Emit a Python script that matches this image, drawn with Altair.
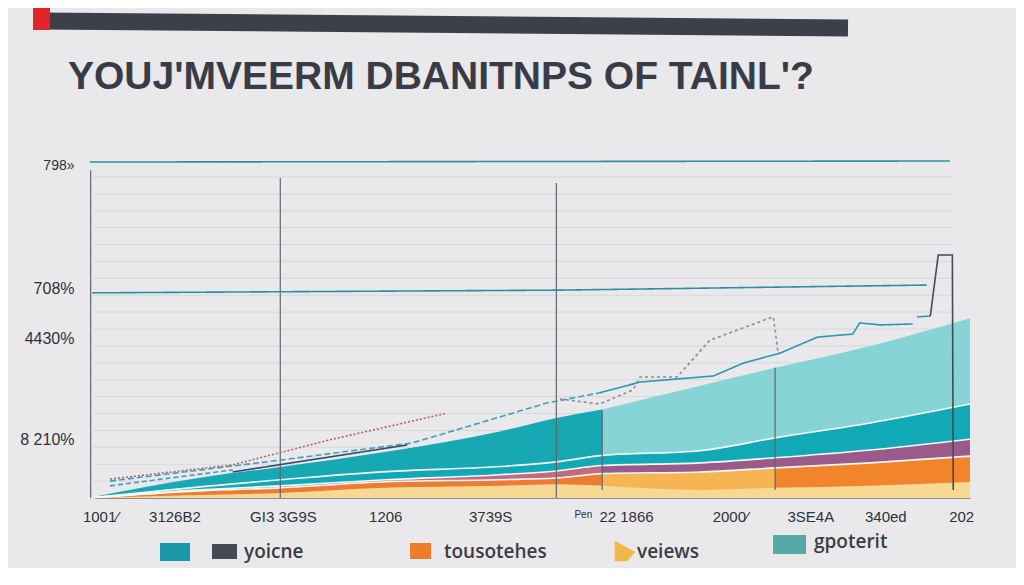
import json
import altair as alt
import pandas as pd

# ---------------- data ----------------
# stacked bands (thickness of each band at each x position)
x_pts  = [0, 12.7, 21.8, 33.8, 46.7, 53.1, 58.3, 69.4, 77.9, 88.7, 100]
pale   = [0, 0.9, 1.5, 3.0, 3.6, 4.1, 3.6, 2.4, 3.0, 3.6, 4.7]
orange = [0, 1.2, 1.5, 1.8, 1.8, 1.8, 3.6, 5.3, 5.9, 6.8, 7.7]
purple = [0, 0.3, 0.6, 0.6, 1.5, 2.1, 2.4, 2.7, 3.0, 3.8, 5.0]
teal   = [0, 0.9, 1.8, 2.4, 2.4, 2.7, 3.0, 3.6, 5.9, 8.0, 10.4]
upper  = [0, 2.7, 3.8, 5.9, 10.4, 13.0, 13.6, 19.2, 20.7, 22.8, 25.4]

# line series
h1_x = [0.2, 97.7];                       h1_y = [99.4, 99.7]
h2_x = [0.5, 53.5, 95.1];                 h2_y = [60.7, 61.5, 63.0]
dash1_x = [2.5, 21.8, 36.8, 52.0, 58.0];  dash1_y = [5.0, 11.2, 16.3, 28.1, 31.1]
dash2_x = [2.5, 16.4];                    dash2_y = [3.6, 8.3]
reddot_x = [2.5, 16.4, 27.4, 40.7];       reddot_y = [5.6, 9.8, 17.2, 25.1]
navy_x = [16.4, 36.2];                    navy_y = [7.7, 15.7]
graydot_x = [53.5, 58.0, 61.8, 62.6, 66.8, 70.5, 77.7, 78.2, 78.5]
graydot_y = [29.3, 27.8, 32.0, 35.8, 35.8, 46.7, 53.6, 43.8, 42.9]
tealln_x = [58.0, 62.6, 70.9, 74.3, 78.5, 82.7, 86.7, 87.5, 89.8, 93.5]
tealln_y = [31.1, 34.3, 36.1, 39.9, 42.9, 47.6, 48.5, 51.8, 51.2, 51.5]
teal2_x = [94.0, 95.5];                   teal2_y = [53.6, 53.8]
spike_x = [95.5, 96.4, 98.0, 98.1];       spike_y = [53.8, 71.9, 71.9, 2.4]

# vertical reference rules
rule_x   = [0.3, 21.8, 53.1, 58.3, 77.9]
rule_top = [97.0, 94.7, 93.2, 26.0, 38.5]
rule_bot = [0, 0, 0, 2.4, 2.4]

grid_y = [5, 10, 15, 20, 25, 30, 35, 40, 45, 50, 55, 60, 65, 70, 75, 80, 85, 90, 95]
grid_x0 = [0.6] * len(grid_y)
grid_x1 = [98.0] * len(grid_y)

# tick labels
y_ticks = [98.5, 62.1, 47.3, 17.2]
y_labels = ["798»", "708%", "4430%", "8 210%"]
x_ticks = [1.4, 9.8, 22.1, 33.7, 45.6, 56.1, 61.0, 72.8, 81.9, 90.4, 99.0]
x_labels = ["1001⁄", "3126B2", "GI3 3G9S", "1206", "3739S", "Pen", "22 1866",
            "2000⁄", "3SE4A", "340ed", "202"]

title_text = "YOUJ'MVEERM DBANITNPS OF TAINL'?"
legend_labels = ["yoicne", "tousotehes", "veiews", "gpoterit"]

# ---------------- styles ----------------
seg_style = {
    "pale":   [("pale", 0, 100, "#f8d993")],
    "orange": [("orange_a", 0, 58.3, "#ee7b32"), ("orange_b", 58.3, 77.9, "#f6b452"),
               ("orange_c", 77.9, 100, "#f2852c")],
    "purple": [("purple_a", 0, 58.3, "#c26a80"), ("purple_b", 58.3, 100, "#9b5b8a")],
    "teal":   [("teal", 0, 100, "#12a9b6")],
    "upper":  [("upper_a", 0, 58.3, "#16a8b3"), ("upper_b", 58.3, 100, "#86d4d6")],
}
line_style = {
    "h1": ("#2b8fa6", [1, 0], 1.6),
    "h2": ("#2f8da3", [1, 0], 1.6),
    "dash1": ("#3aa3b3", [6, 3], 1.6),
    "dash2": ("#3d9fb0", [5, 3], 1.4),
    "reddot": ("#b0606e", [2, 2], 1.3),
    "navy": ("#394868", [1, 0], 1.5),
    "graydot": ("#8b8d92", [3, 3], 1.3),
    "tealln": ("#2a98ae", [1, 0], 2.0),
    "teal2": ("#2a98ae", [1, 0], 2.0),
    "spike": ("#454a53", [1, 0], 2.0),
}

# ---------------- build tables ----------------
bands = [("pale", pale), ("orange", orange), ("purple", purple), ("teal", teal), ("upper", upper)]
area_rows, edge_rows = [], []
base = [0.0] * len(x_pts)
for band, vals in bands:
    top = [b + v for b, v in zip(base, vals)]
    for seg, lo, hi, _c in seg_style[band]:
        for i, x in enumerate(x_pts):
            if lo <= x <= hi:
                area_rows.append({"seg": seg, "x": x, "y0": base[i], "y1": top[i]})
    if band in ("orange", "purple", "teal"):
        for i, x in enumerate(x_pts):
            edge_rows.append({"edge": band, "x": x, "y": top[i], "i": i})
    base = top
area_df = pd.DataFrame(area_rows)
edge_df = pd.DataFrame(edge_rows)
seg_names = [s[0] for b in seg_style.values() for s in b]
seg_colors = [s[3] for b in seg_style.values() for s in b]

series = {
    "h1": (h1_x, h1_y), "h2": (h2_x, h2_y), "dash1": (dash1_x, dash1_y),
    "dash2": (dash2_x, dash2_y), "reddot": (reddot_x, reddot_y), "navy": (navy_x, navy_y),
    "graydot": (graydot_x, graydot_y), "tealln": (tealln_x, tealln_y),
    "teal2": (teal2_x, teal2_y), "spike": (spike_x, spike_y),
}
line_rows = []
for name, (xs_, ys_) in series.items():
    for i, (x, y) in enumerate(zip(xs_, ys_)):
        line_rows.append({"s": name, "x": x, "y": y, "i": i})
line_df = pd.DataFrame(line_rows)
ln_names = list(line_style.keys())

rule_df = pd.DataFrame({"x": rule_x, "y": rule_top, "y2": rule_bot})
grid_df = pd.DataFrame({"x": grid_x0, "x2": grid_x1, "y": grid_y})


def label_expr(vals, labels):
    return "%s[indexof(%s, datum.value)]" % (json.dumps(labels, ensure_ascii=False), json.dumps(vals))


FONT = "Liberation Sans"
TXT = "#2f3138"

xs = alt.Scale(domain=[0, 100], nice=False, zero=False)
ys = alt.Scale(domain=[0, 100], nice=False, zero=False)
x_axis = alt.Axis(values=x_ticks, labelExpr=label_expr(x_ticks, x_labels),
                  ticks=False, domain=True, domainColor="#8c8c90", domainWidth=1.2,
                  grid=False, labelFont=FONT, labelColor=TXT,
                  labelFontSize={"condition": {"test": "datum.value == 56.1", "value": 10}, "value": 15},
                  labelPadding=11, labelAngle=0, labelOverlap=False, labelFlush=False)
y_axis = alt.Axis(values=y_ticks, labelExpr=label_expr(y_ticks, y_labels),
                  ticks=False, domain=False, grid=False, labelFont=FONT,
                  labelColor=TXT,
                  labelFontSize={"condition": {"test": "datum.value == 98.5", "value": 14}, "value": 16},
                  labelPadding=14, labelOverlap=False, labelFlush=False)


def X(f):
    return alt.X(f, scale=xs, axis=x_axis, title=None)


def Y(f):
    return alt.Y(f, scale=ys, axis=y_axis, title=None)


grid = alt.Chart(grid_df).mark_rule(color="#d8d8dc", strokeWidth=1).encode(
    x=X("x:Q"), x2="x2:Q", y=Y("y:Q"),
)

areas = alt.Chart(area_df).mark_area(interpolate="monotone").encode(
    x=X("x:Q"), y=Y("y1:Q"), y2="y0:Q",
    fill=alt.Fill("seg:N", scale=alt.Scale(domain=seg_names, range=seg_colors), legend=None),
)

edges = alt.Chart(edge_df).mark_line(interpolate="monotone", color="#f6f8f8", strokeWidth=1.6).encode(
    x=X("x:Q"), y=Y("y:Q"), detail="edge:N", order="i:Q",
)

rules = alt.Chart(rule_df).mark_rule(color="#62666c", strokeWidth=1.2).encode(
    x=X("x:Q"), y=Y("y:Q"), y2="y2:Q",
)

lines = alt.Chart(line_df).mark_line().encode(
    x=X("x:Q"), y=Y("y:Q"),
    stroke=alt.Stroke("s:N", scale=alt.Scale(domain=ln_names, range=[line_style[n][0] for n in ln_names]), legend=None),
    strokeDash=alt.StrokeDash("s:N", scale=alt.Scale(domain=ln_names, range=[line_style[n][1] for n in ln_names]), legend=None),
    strokeWidth=alt.StrokeWidth("s:N", scale=alt.Scale(domain=ln_names, range=[line_style[n][2] for n in ln_names]), legend=None),
    detail="s:N", order="i:Q",
)

one = alt.Data(values=[{}])
OX, OY = 88, 160  # page position of the plot origin


def px(v):
    return alt.value(v - OX)


def py(v):
    return alt.value(v - OY)


deco = [
    alt.Chart(one).mark_rule(color="#3d4048", strokeWidth=17, strokeCap="butt").encode(
        x=px(40), x2=px(848), y=py(21), y2=py(28)),
    alt.Chart(one).mark_rect(color="#e1252b").encode(x=px(33), x2=px(50), y=py(3), y2=py(30)),
    alt.Chart(one).mark_text(text=title_text, align="left", baseline="alphabetic", fontSize=39,
                             fontWeight="bold", font=FONT, color="#393c46").encode(x=px(68), y=py(89)),
]

# legend swatches (page pixel boxes) and labels
sw_colors = ["#1a98a8", "#474a55", "#ef7b2b", "#55a9a9"]
sw_boxes = [(160, 190, 543, 561), (212, 237, 544, 559), (410, 431, 543, 559), (773, 806, 535, 554)]
for c, (x1, x2, y1, y2) in zip(sw_colors, sw_boxes):
    deco.append(alt.Chart(one).mark_rect(color=c).encode(x=px(x1), x2=px(x2), y=py(y1), y2=py(y2)))
deco.append(alt.Chart(one).mark_point(shape="M -1 -1 L 1 0.1 L 0.2 1 L -1 1 Z", filled=True, size=420,
                                       color="#f3b648", opacity=1).encode(x=px(625), y=py(551)))
lab_pos = [(244, 552), (444, 552), (637, 552), (814, 542)]
for t, (x, y) in zip(legend_labels, lab_pos):
    deco.append(alt.Chart(one).mark_text(text=t, align="left", baseline="middle", fontSize=19,
                                         fontWeight=600, font="Open Sans", color="#3b3d45").encode(x=px(x), y=py(y)))

chart = alt.layer(grid, areas, edges, rules, lines, *deco).properties(
    width=882, height=338,
    autosize=alt.AutoSizeParams(type="none"),
    padding={"left": 80, "top": 152, "right": 46, "bottom": 70},
    background="#e9e9eb",
).configure_view(stroke=None)

chart.save("out.html", embed_options={"renderer": "svg", "actions": False})
